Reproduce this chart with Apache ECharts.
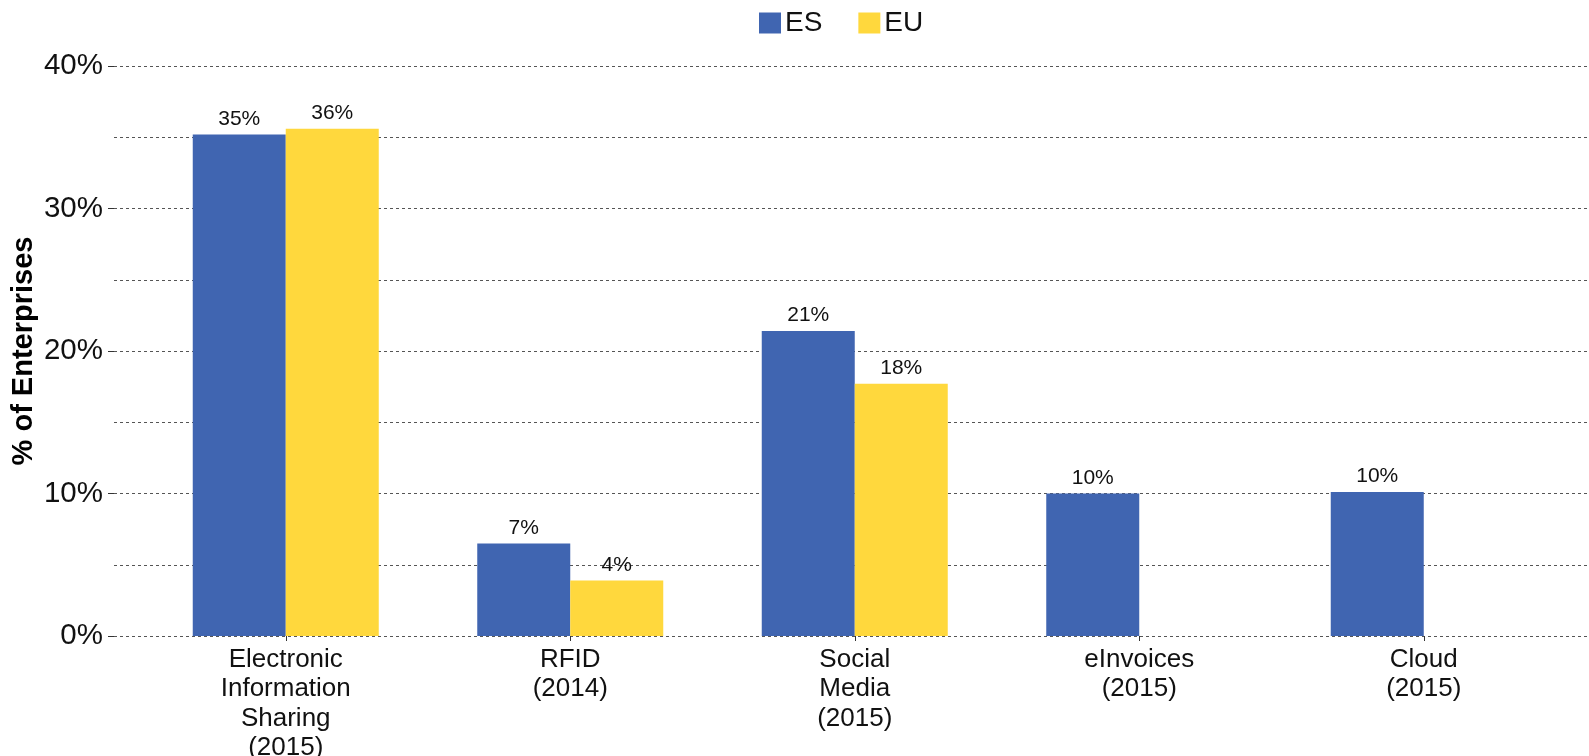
<!DOCTYPE html>
<html>
<head>
<meta charset="utf-8">
<script src="https://cdn.jsdelivr.net/npm/echarts@6/dist/echarts.min.js"></script>
<style>
html,body{margin:0;padding:0;background:#fff;}
#c{width:1589px;height:756px;}
</style>
</head>
<body>
<div id="c"></div>
<script>
const categories = ['Electronic\nInformation\nSharing\n(2015)', 'RFID\n(2014)', 'Social\nMedia\n(2015)', 'eInvoices\n(2015)', 'Cloud\n(2015)'];
const seriesNames = ['ES', 'EU'];
const esValues = [35.2, 6.5, 21.4, 10.0, 10.1];
const euValues = [35.6, 3.9, 17.7, null, null];
const yTicks = [0, 10, 20, 30, 40];

const FONT = 'Liberation Sans, Arial, sans-serif';
const chart = echarts.init(document.getElementById('c'), null, {renderer: 'canvas'});

const labelCfg = {
  show: true,
  position: 'top',
  distance: 5,
  fontSize: 21,
  fontFamily: FONT,
  color: '#111',
  formatter: p => Math.round(p.value) + '%'
};

chart.setOption({
  animation: false,
  backgroundColor: '#fff',
  textStyle: {fontFamily: FONT},
  legend: {
    data: seriesNames,
    top: 4,
    left: 754,
    itemWidth: 22,
    itemHeight: 21,
    itemGap: 36,
    icon: 'rect',
    textStyle: {fontSize: 28, color: '#111', fontFamily: FONT, padding: [0,0,0,-1]}
  },
  grid: [
    {left: 114, right: 0, top: 66, bottom: 120, outerBoundsMode: 'none', containLabel: false},
    {left: 143.5, right: 23, top: 66, bottom: 120, outerBoundsMode: 'none', containLabel: false}
  ],
  xAxis: [
    {type: 'value', gridIndex: 0, show: false, min: 0, max: 1},
    {
      type: 'category', gridIndex: 1, data: categories,
      axisLine: {show: false},
      axisTick: {show: true, alignWithLabel: true, length: 5, lineStyle: {color: '#333'}},
      axisLabel: {fontSize: 26, lineHeight: 29.5, color: '#111', fontFamily: FONT, margin: 9, interval: 0}
    }
  ],
  yAxis: [
    {
      type: 'value', gridIndex: 0, min: yTicks[0], max: yTicks[yTicks.length-1], interval: 10,
      name: '% of Enterprises', nameLocation: 'middle', nameGap: 76, nameRotate: 90,
      nameMoveOverlap: false,
      nameTextStyle: {fontSize: 29, fontWeight: 'bold', color: '#000', fontFamily: FONT},
      axisLine: {show: false},
      axisTick: {show: true, length: 6, lineStyle: {color: '#333'}},
      axisLabel: {formatter: '{value}%', fontSize: 29.5, color: '#111', margin: 11, fontFamily: FONT},
      splitLine: {show: true, lineStyle: {color: '#555', type: [3, 3], width: 1}},
      minorTick: {show: false, splitNumber: 2},
      minorSplitLine: {show: true, lineStyle: {color: '#555', type: [3, 3], width: 1}}
    },
    {type: 'value', gridIndex: 1, min: 0, max: 40, show: false, splitLine: {show: false}}
  ],
  series: [
    {
      name: seriesNames[0], type: 'bar', xAxisIndex: 1, yAxisIndex: 1,
      data: esValues, barWidth: 93, barGap: '0%',
      itemStyle: {color: '#4065B1'}, label: labelCfg, z: 3
    },
    {
      name: seriesNames[1], type: 'bar', xAxisIndex: 1, yAxisIndex: 1,
      data: euValues, barWidth: 93, barGap: '0%',
      itemStyle: {color: '#FFD83D'}, label: labelCfg, z: 3
    }
  ]
});
</script>
</body>
</html>
